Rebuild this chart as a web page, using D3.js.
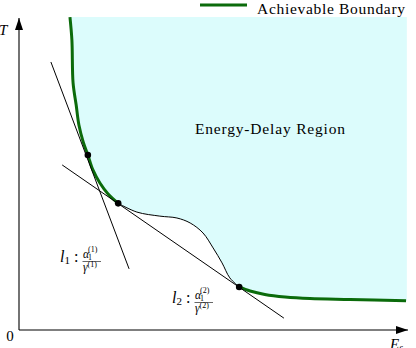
<!DOCTYPE html>
<meta charset="utf-8">
<script src="https://d3js.org/d3.v7.min.js"></script>
<style>
  body { margin: 0; background: #fff; }
</style>
<div id="my_dataviz"></div>
<script>

// achievable boundary, upper convex part (E_s, T)
var upperBoundary = [[1.31,10.03],[1.36,9.29],[1.39,7.92],[1.47,7.21],[1.54,6.57],[1.65,6.03],
                     [1.77,5.61],[1.90,5.13],[2.08,4.71],[2.29,4.36],[2.55,4.06]];
// non-convex part of the region edge
var wavyEdge = [[2.55,4.06],[3.03,3.78],[3.62,3.65],[4.06,3.59],[4.40,3.43],[4.73,3.11],
                [4.99,2.63],[5.22,2.15],[5.42,1.67],[5.66,1.38]];
// achievable boundary, lower part
var lowerBoundary = [[5.66,1.38],[5.94,1.25],[6.32,1.14],[6.84,1.06],[7.48,1.01],
                     [8.51,0.98],[9.95,0.94]];
// tangent points
var tangentPts = [[1.77,5.61],[2.55,4.06],[5.66,1.38]];
// tangent lines l1, l2 (end points)
var line1 = [[0.82,8.59],[2.83,1.96]];
var line2 = [[1.11,5.29],[6.81,0.38]];
var regionCorner = [9.97, 10.03];

var width = 416, height = 348;
var serif = "Liberation Serif";

var svg = d3.select("#my_dataviz")
    .append("svg")
    .attr("width", width)
    .attr("height", height)
    .style("font-family", serif);

var x = d3.scaleLinear().domain([0, 10]).range([19, 408]);
var y = d3.scaleLinear().domain([0, 10]).range([330, 18]);

var smooth = d3.line()
    .x(function(d) { return x(d[0]); })
    .y(function(d) { return y(d[1]); })
    .curve(d3.curveCatmullRom);
var straight = d3.line()
    .x(function(d) { return x(d[0]); })
    .y(function(d) { return y(d[1]); });

// region fill
var lastY = lowerBoundary[lowerBoundary.length - 1][1];
svg.append("path")
    .attr("d", smooth(upperBoundary.concat(wavyEdge.slice(1), lowerBoundary.slice(1)))
        + "L" + x(regionCorner[0]) + "," + y(lastY)
        + "L" + x(regionCorner[0]) + "," + y(regionCorner[1])
        + "L" + x(upperBoundary[0][0]) + "," + y(regionCorner[1]) + "Z")
    .attr("fill", "#dcfcfc");

// axes with arrows
svg.append("defs").append("marker")
    .attr("id", "arrow")
    .attr("viewBox", "0 0 12 8")
    .attr("refX", 12).attr("refY", 4)
    .attr("markerWidth", 12).attr("markerHeight", 8)
    .attr("markerUnits", "userSpaceOnUse")
    .attr("orient", "auto")
    .append("path").attr("d", "M0,0L12,4L0,8Z").attr("fill", "#000");

svg.append("path")
    .attr("d", "M" + x(0) + "," + y(0) + "H" + x(10))
    .attr("stroke", "#000").attr("stroke-width", 1.1)
    .attr("marker-end", "url(#arrow)");
svg.append("path")
    .attr("d", "M" + x(0) + "," + y(0) + "V" + y(10))
    .attr("stroke", "#000").attr("stroke-width", 1.1)
    .attr("marker-end", "url(#arrow)");

// wavy edge
svg.append("path")
    .attr("d", smooth(wavyEdge))
    .attr("fill", "none").attr("stroke", "#000").attr("stroke-width", 1);

// achievable boundary
[upperBoundary, lowerBoundary].forEach(function(seg) {
    svg.append("path")
        .attr("d", smooth(seg))
        .attr("fill", "none").attr("stroke", "#0b6b0b").attr("stroke-width", 3);
});

// tangent lines
[line1, line2].forEach(function(l) {
    svg.append("path")
        .attr("d", straight(l))
        .attr("fill", "none").attr("stroke", "#000").attr("stroke-width", 1);
});

// tangent points
svg.selectAll("circle.tp")
    .data(tangentPts)
    .enter().append("circle")
    .attr("cx", function(d) { return x(d[0]); })
    .attr("cy", function(d) { return y(d[1]); })
    .attr("r", 3.3)
    .attr("fill", "#000");

// axis labels
svg.append("text").attr("x", 10).attr("y", 341).attr("text-anchor", "middle")
    .attr("font-size", 15).text("0");
svg.append("text").attr("x", -1).attr("y", 35)
    .attr("font-size", 15).attr("font-style", "italic").text("T");
var ex = svg.append("text").attr("x", 390).attr("y", 349)
    .attr("font-size", 15).attr("font-style", "italic");
ex.append("tspan").text("E");
ex.append("tspan").attr("dy", 2).attr("font-size", 10).text("s");

// region label
svg.append("text").attr("x", 270).attr("y", 134).attr("text-anchor", "middle")
    .attr("font-size", 15.5).attr("textLength", 150).text("Energy-Delay Region");

// legend
svg.append("line").attr("x1", 200).attr("x2", 247).attr("y1", 5).attr("y2", 5)
    .attr("stroke", "#0b6b0b").attr("stroke-width", 3);
svg.append("text").attr("x", 257).attr("y", 14)
    .attr("font-size", 15.5).attr("textLength", 148).text("Achievable Boundary");

// tangent line labels
function lineLabel(lx, ly, k) {
    var g = svg.append("g").attr("transform", "translate(" + lx + "," + ly + ")");
    var t = g.append("text").attr("font-size", 16);
    t.append("tspan").attr("font-style", "italic").text("l");
    t.append("tspan").attr("dy", 2).attr("font-size", 11).text(k);
    t.append("tspan").attr("dy", -2).attr("dx", 4).text(":");
    var n = g.append("text").attr("x", 23).attr("y", -4).attr("font-size", 11.5);
    n.append("tspan").attr("font-style", "italic").text("α");
    n.append("tspan").attr("dy", 1.5).attr("dx", -1).attr("font-size", 8).text("1");
    n.append("tspan").attr("dy", -8).attr("dx", -4).attr("font-size", 8).text("(" + k + ")");
    g.append("line").attr("x1", 22.5).attr("x2", 41).attr("y1", -0.5).attr("y2", -0.5)
        .attr("stroke", "#000").attr("stroke-width", 0.6);
    var dn = g.append("text").attr("x", 23).attr("y", 8.5).attr("font-size", 11.5);
    dn.append("tspan").attr("font-style", "italic").text("γ");
    dn.append("tspan").attr("dy", -3.5).attr("font-size", 8).text("(" + k + ")");
}
lineLabel(60, 262, "1");
lineLabel(172, 303, "2");

</script>
